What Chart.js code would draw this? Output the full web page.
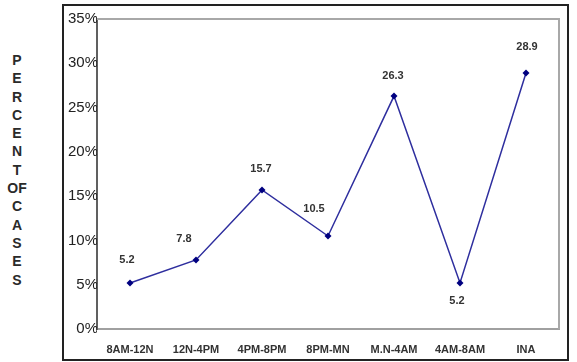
<!DOCTYPE html>
<html>
<head>
<meta charset="utf-8">
<script src="https://cdn.jsdelivr.net/npm/chart.js@4/dist/chart.umd.min.js"></script>
<style>
  html, body { margin: 0; padding: 0; background: #fff; }
  #wrap { position: relative; width: 577px; height: 362px; }
  #frame { position: absolute; left: 62px; top: 4px; width: 503px; height: 353px; border: 2px solid #222; }
  #ylab { position: absolute; left: 4px; top: 51px; width: 26px; text-align: center;
          font: bold 14px "Liberation Sans", Arial, sans-serif; line-height: 18.3px; color: #2a2a2a; }
  canvas { position: absolute; left: 0; top: 0; }
</style>
</head>
<body>
<div id="wrap">
  <div id="ylab">P<br>E<br>R<br>C<br>E<br>N<br>T<br>OF<br>C<br>A<br>S<br>E<br>S</div>
  <div id="frame"></div>
  <canvas id="c" width="577" height="362"></canvas>
</div>
<script>
const categories = ['8AM-12N', '12N-4PM', '4PM-8PM', '8PM-MN', 'M.N-4AM', '4AM-8AM', 'INA'];
const percentCases = [5.2, 7.8, 15.7, 10.5, 26.3, 5.2, 28.9];
const yTicks = [0, 5, 10, 15, 20, 25, 30, 35];
// label placement offsets (px) relative to each point, as in the original
const labelDx = [-3, -12, -1, -14, -1, -3, 1];
const labelDy = [-23, -21, -21, -27, -20, 18, -26];

const frameAndLabels = {
  id: 'frameAndLabels',
  beforeDatasetsDraw(chart) {
    const { ctx, chartArea: a } = chart;
    ctx.save();
    ctx.strokeStyle = '#a8a8a8';
    ctx.lineWidth = 2;
    ctx.beginPath();
    ctx.moveTo(a.left, a.top); ctx.lineTo(a.right, a.top); ctx.lineTo(a.right, a.bottom);
    ctx.stroke();
    ctx.restore();
  },
  afterDatasetsDraw(chart) {
    const { ctx } = chart;
    const meta = chart.getDatasetMeta(0);
    ctx.save();
    ctx.font = 'bold 11px "Liberation Sans", Arial, sans-serif';
    ctx.fillStyle = '#333';
    ctx.textAlign = 'center';
    ctx.textBaseline = 'middle';
    meta.data.forEach((pt, i) => {
      ctx.fillText(percentCases[i].toFixed(1), pt.x + labelDx[i], pt.y + labelDy[i]);
    });
    ctx.restore();
  }
};

new Chart(document.getElementById('c'), {
  type: 'line',
  data: {
    labels: categories,
    datasets: [{
      data: percentCases,
      borderColor: '#2e2e9e',
      borderWidth: 1.5,
      backgroundColor: '#000080',
      pointStyle: 'rectRot',
      pointRadius: 3.5,
      pointBorderWidth: 0,
      pointBackgroundColor: '#000080',
      tension: 0,
      fill: false
    }]
  },
  options: {
    responsive: false,
    animation: false,
    layout: { padding: { left: 0, top: 19, right: 18, bottom: 0 } },
    plugins: { legend: { display: false }, tooltip: { enabled: false } },
    scales: {
      x: {
        offset: true,
        grid: { display: false, drawTicks: false },
        border: { color: '#a0a0a0', width: 2 },
        ticks: {
          padding: 14,
          color: '#333',
          font: { family: '"Liberation Sans", Arial, sans-serif', size: 11, weight: 'bold' },
          maxRotation: 0, autoSkip: false
        },
        afterFit(s) { s.height = 33; }
      },
      y: {
        min: 0, max: 35,
        afterBuildTicks(s) { s.ticks = yTicks.map(v => ({ value: v })); },
        grid: { display: false, drawTicks: false },
        border: { color: '#606060', width: 2 },
        ticks: {
          padding: -1,
          color: '#222',
          font: { family: '"Liberation Sans", Arial, sans-serif', size: 15 },
          callback: v => v + '%'
        },
        afterFit(s) { s.width = 97; }
      }
    }
  },
  plugins: [frameAndLabels]
});
</script>
</body>
</html>
